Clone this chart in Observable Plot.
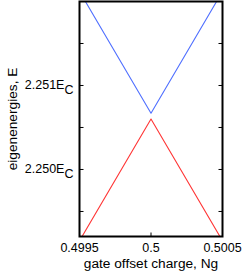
<!DOCTYPE html>
<html><head><meta charset="utf-8">
<script src="https://cdn.jsdelivr.net/npm/d3@7"></script>
<script src="https://cdn.jsdelivr.net/npm/@observablehq/plot@0.6"></script>
<style>html,body{margin:0;padding:0;background:#fff} svg{display:block}</style>
</head><body><div id="chart"></div>
<script>
const ng = [0.4995, 0.5, 0.5005];
const upperE = [2.25212, 2.25067, 2.25212];
const lowerE = [2.24915, 2.25060, 2.24915];
const xTicks = [0.4995, 0.5, 0.5005];
const xTickLabels = ["0.4995", "0.5", "0.5005"];
const yAllTicks = [2.2495, 2.2500, 2.2505, 2.2510, 2.2515];
const yTicks = [2.2500, 2.2510];
const yTickLabels = ["2.250E", "2.251E"];
const ySub = "C";
const xLabel = "gate offset charge, Ng";
const yLabel = "eigenenergies, E";

const upper = ng.map((x, i) => ({x, e: upperE[i]}));
const lower = ng.map((x, i) => ({x, e: lowerE[i]}));
const font = "'Liberation Sans', Arial, Helvetica, sans-serif";
const TL = 4;
const tickSym = (dx, dy) => ({draw(ctx) { ctx.moveTo(0, 0); ctx.lineTo(dx, dy); }});

const plot = Plot.plot({
  width: 244, height: 272,
  marginLeft: 79, marginRight: 22, marginTop: 1, marginBottom: 36,
  style: {fontFamily: font, fontSize: "12.5px", background: "white", color: "black", overflow: "visible"},
  x: {domain: [0.4995, 0.5005], axis: null},
  y: {domain: [2.249202, 2.252], axis: null},
  marks: [
    Plot.line(upper, {x: "x", y: "e", stroke: "#4f6fff", strokeWidth: 1.1, clip: true}),
    Plot.line(lower, {x: "x", y: "e", stroke: "#ff3535", strokeWidth: 1.1, clip: true}),
    Plot.dot(xTicks, {x: d => d, frameAnchor: "bottom", symbol: tickSym(0, -TL), stroke: "black", fill: "none", strokeWidth: 1}),
    Plot.dot(yAllTicks, {y: d => d, frameAnchor: "left", symbol: tickSym(TL, 0), stroke: "black", fill: "none", strokeWidth: 1}),
    Plot.dot(yAllTicks, {y: d => d, frameAnchor: "right", symbol: tickSym(-TL, 0), stroke: "black", fill: "none", strokeWidth: 1}),
    Plot.text(xTicks, {x: d => d, frameAnchor: "bottom", text: (d, i) => xTickLabels[i], lineAnchor: "top", dy: 7, fontSize: 12.5}),
    Plot.text(yTicks, {y: d => d, frameAnchor: "left", text: (d, i) => yTickLabels[i], textAnchor: "end", lineAnchor: "middle", dx: -6, fontSize: 12.5}),
    Plot.text([xLabel], {frameAnchor: "bottom", lineAnchor: "bottom", dy: 31.5, fontSize: 13.7}),
    Plot.text([yLabel], {frameAnchor: "left", lineAnchor: "middle", textAnchor: "middle", rotate: -90, dx: -67, fontSize: 13.7}),
    Plot.frame({stroke: "black", strokeWidth: 2})
  ]
});
plot.querySelectorAll("text").forEach(t => {
  if (yTickLabels.includes(t.textContent)) {
    const ts = document.createElementNS("http://www.w3.org/2000/svg", "tspan");
    ts.setAttribute("dy", "5");
    ts.textContent = ySub;
    t.appendChild(ts);
  }
});
document.getElementById("chart").appendChild(plot);
</script>
</body></html>
